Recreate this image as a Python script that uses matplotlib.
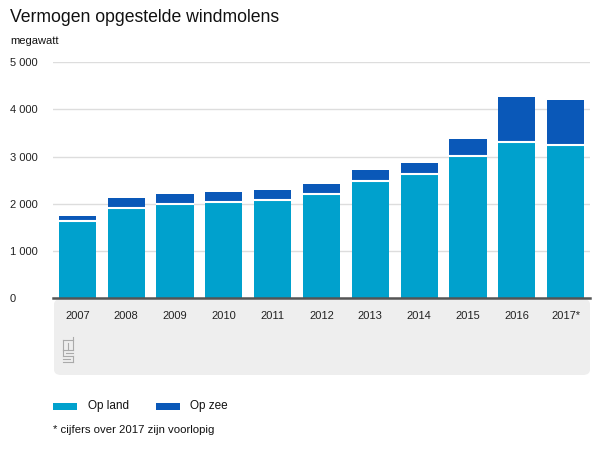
import numpy as np
import matplotlib.pyplot as plt
from matplotlib.patches import FancyBboxPatch, Rectangle

plt.rcParams['font.family'] = ['Liberation Sans', 'DejaVu Sans']

years = ['2007', '2008', '2009', '2010', '2011', '2012', '2013', '2014', '2015', '2016', '2017*']
op_land = [1640, 1920, 1995, 2030, 2090, 2200, 2485, 2635, 3020, 3300, 3245]
op_zee = [108, 210, 220, 210, 210, 228, 220, 220, 360, 950, 950]
yticks = [0, 1000, 2000, 3000, 4000, 5000]

land_color = '#00a1cd'
zee_color = '#0a58b8'

W, H = 600, 450
fig = plt.figure(figsize=(6, 4.5), dpi=100)

def fx(px):
    return px / W

def fy(py):
    return 1 - py / H

# grey panel behind x labels
panel = FancyBboxPatch((fx(54), fy(375)), fx(536), (375 - 299) / H,
                       boxstyle='round,pad=0,rounding_size=0.012',
                       transform=fig.transFigure, facecolor='#eeeeee',
                       edgecolor='none', zorder=0)
fig.patches.append(panel)

ax = fig.add_axes([fx(53), fy(298.3), fx(537), (298.3 - 62) / H])
ax.set_zorder(2)
x = np.arange(len(years))
ax.bar(x, op_land, width=0.76, color=land_color, zorder=3)
ax.bar(x, op_zee, bottom=op_land, width=0.76, color=zee_color, linewidth=0, zorder=3)
# white separator between the two parts
for xi, v in zip(x, op_land):
    ax.plot([xi - 0.38, xi + 0.38], [v, v], color='white', lw=1.5, zorder=4,
            solid_capstyle='butt')

ax.set_xlim(-0.5, len(years) - 0.5)
ax.set_ylim(0, 5000)
ax.set_yticks(yticks)
ax.set_yticklabels([f'{v:,}'.replace(',', ' ') for v in yticks])
for lab in ax.get_yticklabels():
    lab.set_horizontalalignment('left')
ax.set_xticks(x)
ax.set_xticklabels(years)
ax.tick_params(axis='y', length=0, pad=31, labelsize=8, labelcolor='#222222')
ax.tick_params(axis='x', length=0, pad=9, labelsize=8, labelcolor='#222222')
ax.grid(axis='y', color='#dddddd', lw=1, zorder=0)
for s in ['top', 'right', 'left']:
    ax.spines[s].set_visible(False)
ax.spines['bottom'].set_color('#555555')
ax.spines['bottom'].set_linewidth(1.8)
ax.spines['bottom'].set_zorder(5)
ax.set_facecolor('none')

fig.text(fx(10), fy(18), 'Vermogen opgestelde windmolens', fontsize=12.7,
         color='#111111', va='center', ha='left')
fig.text(fx(10), fy(41), 'megawatt', fontsize=8, color='#111111', va='center', ha='left')

# cbs logo, rough
logo_c = '#aaaaaa'
for (x0, y0, x1, y1) in [(63, 340, 73, 340), (63, 340, 63, 350), (63, 350, 73, 350),
                         (68, 343, 68, 350), (73, 337, 73, 350),
                         (63, 350, 63, 356), (63, 356, 73, 356), (73, 356, 73, 362),
                         (63, 362, 73, 362), (66, 353, 73, 353), (63, 359, 70, 359)]:
    fig.add_artist(plt.Line2D([fx(x0), fx(x1)], [fy(y0), fy(y1)], color=logo_c, lw=0.8,
                              transform=fig.transFigure))

# legend
fig.patches.append(Rectangle((fx(53), fy(410)), fx(24), 7 / H, transform=fig.transFigure,
                             facecolor=land_color, edgecolor='none'))
fig.text(fx(88), fy(406), 'Op land', fontsize=8.5, va='center', ha='left', color='#111111')
fig.patches.append(Rectangle((fx(156), fy(410)), fx(24), 7 / H, transform=fig.transFigure,
                             facecolor=zee_color, edgecolor='none'))
fig.text(fx(190), fy(406), 'Op zee', fontsize=8.5, va='center', ha='left', color='#111111')
fig.text(fx(53), fy(430), '* cijfers over 2017 zijn voorlopig', fontsize=8.2,
         va='center', ha='left', color='#111111')

fig.savefig('out.png', dpi=100)
